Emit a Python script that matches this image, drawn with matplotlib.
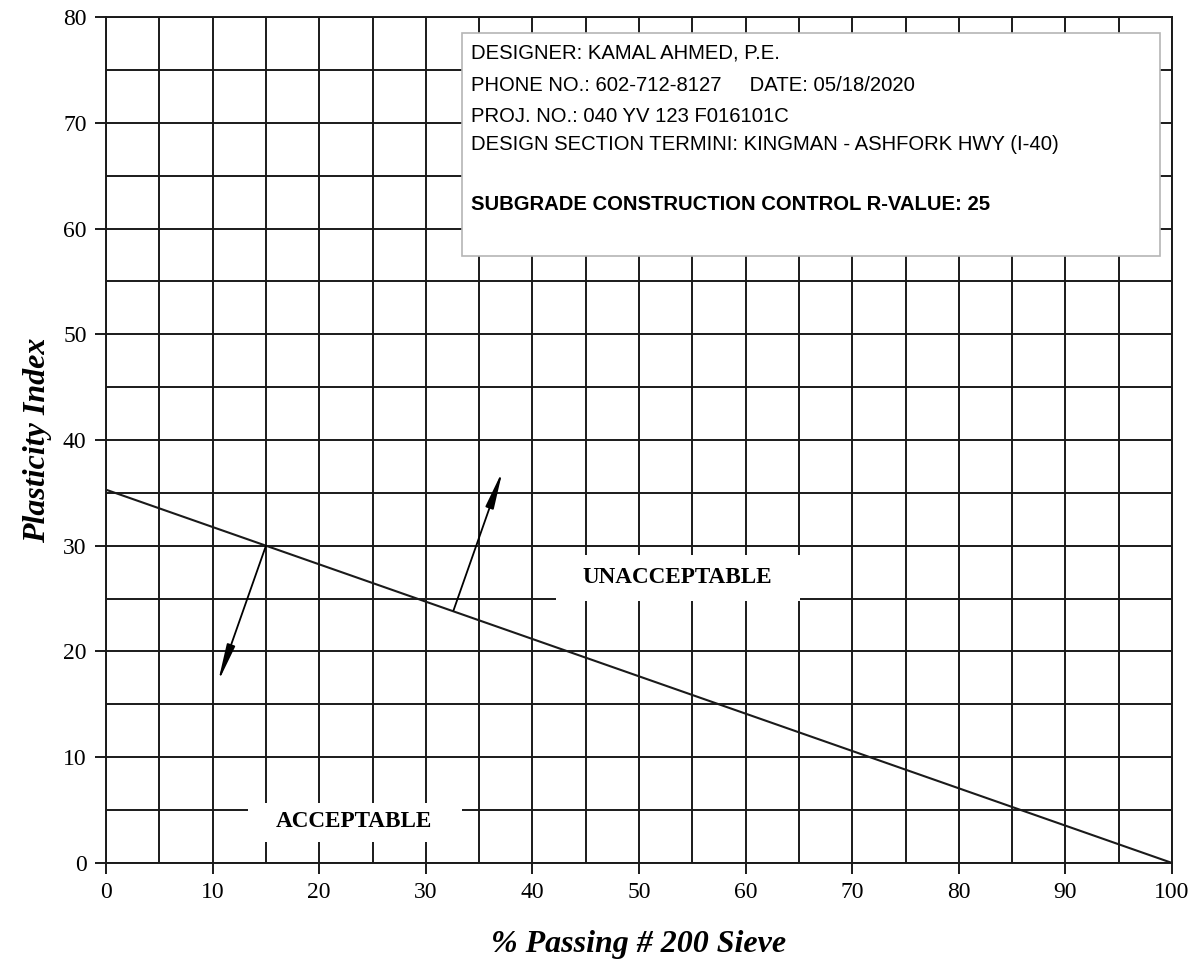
import numpy as np
import matplotlib.pyplot as plt
from matplotlib.patches import Rectangle

# R-value 25 control line
pct_passing = [0, 100]
plasticity = [35.3, 0]

x_ticks = list(range(0, 101, 10))
y_ticks = list(range(0, 81, 10))

# arrows: (start, end) in data units
arrow_accept = ((15, 30), (10.5, 17.1))
arrow_unaccept = ((32.6, 23.9), (37.2, 37.1))

info_lines = [
    "DESIGNER: KAMAL AHMED, P.E.",
    "PHONE NO.: 602-712-8127     DATE: 05/18/2020",
    "PROJ. NO.: 040 YV 123 F016101C",
    "DESIGN SECTION TERMINI: KINGMAN - ASHFORK HWY (I-40)",
]
r_value_line = "SUBGRADE CONSTRUCTION CONTROL R-VALUE: 25"

serif = ['Liberation Serif', 'DejaVu Serif']
sans = ['Liberation Sans', 'DejaVu Sans']

fig = plt.figure(figsize=(12.01, 9.68), dpi=100)
ax = fig.add_axes([0.0883, 0.1085, 0.8876, 0.8739])

ax.set_xlim(0, 100)
ax.set_ylim(0, 80)
ax.set_xticks(x_ticks)
ax.set_yticks(y_ticks)
ax.set_xticks(np.arange(5, 100, 10), minor=True)
ax.set_yticks(np.arange(5, 80, 10), minor=True)
ax.grid(True, which='both', color='#1a1a1a', lw=1.4)
ax.set_axisbelow(True)
for s in ax.spines.values():
    s.set_color('#1a1a1a')
    s.set_linewidth(1.4)
ax.tick_params(which='major', length=8, width=1.4, color='#1a1a1a', labelsize=17, pad=6)
ax.tick_params(which='minor', length=0)
for lbl in ax.get_xticklabels() + ax.get_yticklabels():
    lbl.set_family(serif)

ax.plot(pct_passing, plasticity, color='#1a1a1a', lw=1.5, zorder=3)

for (x0, y0), (x1, y1) in (arrow_accept, arrow_unaccept):
    ax.annotate('', xy=(x1, y1), xytext=(x0, y0),
                arrowprops=dict(arrowstyle='-|>,head_length=1.6,head_width=0.18',
                                mutation_scale=14, color='black', lw=1.3,
                                shrinkA=0, shrinkB=0), zorder=4)

# label boxes hiding grid
ax.add_patch(Rectangle((42.2, 24.8), 22.9, 4.3, facecolor='white', edgecolor='none', zorder=2))
ax.text(53.6, 27.0, "UNACCEPTABLE", ha='center', va='center', fontsize=16.7,
        fontweight='bold', family=serif, zorder=5)
ax.add_patch(Rectangle((13.3, 2.0), 20.1, 3.7, facecolor='white', edgecolor='none', zorder=2))
ax.text(23.3, 3.9, "ACCEPTABLE", ha='center', va='center', fontsize=16.7,
        fontweight='bold', family=serif, zorder=5)

# info box
ax.add_patch(Rectangle((33.4, 57.4), 65.5, 21.1, facecolor='white', edgecolor='#b5b5b5',
                       lw=1.2, zorder=2))
line_y = [76.6, 73.5, 70.6, 67.9]
for txt, yy in zip(info_lines, line_y):
    ax.text(34.2, yy, txt, ha='left', va='center', fontsize=14.6, family=sans, zorder=5)
ax.text(34.2, 62.3, r_value_line, ha='left', va='center', fontsize=14.6,
        fontweight='bold', family=sans, zorder=5)

ax.set_xlabel("% Passing # 200 Sieve", fontsize=23, fontweight='bold', style='italic',
              family=serif, labelpad=19)
ax.set_ylabel("Plasticity Index", fontsize=23, fontweight='bold', style='italic',
              family=serif, labelpad=8)

fig.savefig('out.png', dpi=100)
